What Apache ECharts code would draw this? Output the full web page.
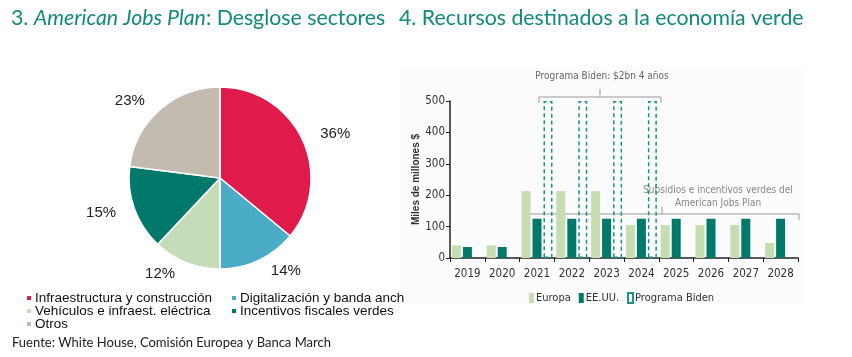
<!DOCTYPE html>
<html>
<head>
<meta charset="utf-8">
<script src="https://cdn.jsdelivr.net/npm/echarts@6/dist/echarts.min.js"></script>
<style>html,body{margin:0;padding:0;background:#fff;}#c{width:852px;height:357px;}</style>
</head>
<body>
<div id="c"></div>
<script>
// Pie data
const pieNames = ['Infraestructura y construcción', 'Digitalización y banda ancha', 'Vehículos e infraest. eléctrica', 'Incentivos fiscales verdes', 'Otros'];
const pieValues = [36, 14, 12, 15, 23];
const pieColors = ['#e01a4b', '#4aacc6', '#c6dcb9', '#00786a', '#c3bab0'];

// Bar data
const years = ['2019', '2020', '2021', '2022', '2023', '2024', '2025', '2026', '2027', '2028'];
const europa = [40, 40, 213, 213, 213, 105, 105, 105, 105, 48];
const eeuu = [35, 35, 125, 125, 125, 125, 125, 125, 125, 125];
const biden = [null, null, 500, 500, 500, 500, null, null, null, null];
const yTicks = [0, 100, 200, 300, 400, 500];

const chart = echarts.init(document.getElementById('c'), null, {renderer: 'canvas'});
const narrow = "'Liberation Sans Narrow', 'Arial Narrow', 'DejaVu Sans Condensed', Arial, sans-serif";
const titleColor = '#11897d';
const titleFont = "21.3px Lato, 'Open Sans', sans-serif";

const option = {
  backgroundColor: '#ffffff',
  animation: false,
  graphic: [
    {type: 'rect', z: -10, shape: {x: 400, y: 66, width: 406, height: 238}, style: {fill: '#fcfcfc'}},
    {type: 'text', left: 11, top: 8, style: {
      text: '{n|3. }{i|American Jobs Plan}{n|: Desglose sectores}',
      rich: {
        n: {fill: titleColor, font: titleFont},
        i: {fill: titleColor, font: "italic " + titleFont}
      }}},
    {type: 'text', left: 399, top: 8, style: {text: '4. Recursos destinados a la economía verde', fill: titleColor, font: titleFont}},
    {type: 'text', left: 12, top: 336, style: {text: 'Fuente: White House, Comisión Europea y Banca March', fill: '#222', font: "13px Lato, 'Open Sans', sans-serif"}},
    // Top bracket
    {type: 'polyline', shape: {points: [[539, 103], [539, 97], [661, 97], [661, 103]]}, style: {stroke: '#999', lineWidth: 1, fill: null}},
    {type: 'line', shape: {x1: 600, y1: 97, x2: 600, y2: 89}, style: {stroke: '#999', lineWidth: 1}},
    {type: 'text', x: 602, y: 76, style: {text: 'Programa Biden: $2bn 4 años', fill: '#666', font: "10px " + narrow, align: 'center', verticalAlign: 'middle'}},
    // Lower bracket
    {type: 'polyline', shape: {points: [[525, 220], [525, 214], [799, 214], [799, 220]]}, style: {stroke: '#999', lineWidth: 1, fill: null}},
    {type: 'line', shape: {x1: 662, y1: 214, x2: 662, y2: 207}, style: {stroke: '#999', lineWidth: 1}},
    {type: 'text', x: 718, y: 190, style: {text: 'Subsidios e incentivos verdes del', fill: '#888', font: "10px " + narrow, align: 'center', verticalAlign: 'middle'}},
    {type: 'text', x: 718, y: 203, style: {text: 'American Jobs Plan', fill: '#888', font: "10px " + narrow, align: 'center', verticalAlign: 'middle'}}
  ],
  legend: [
    {
      left: 20, top: 291, orient: 'vertical', itemGap: -1, itemWidth: 6, itemHeight: 6, icon: 'rect', padding: [0, 5],
      data: [pieNames[0], pieNames[2], pieNames[4]],
      textStyle: {fontFamily: 'Arial, Liberation Sans, sans-serif', fontSize: 13.5, color: '#111', lineHeight: 12.5, padding: [0, 0, 0, -2]}
    },
    {
      left: 225, top: 291, orient: 'vertical', itemGap: -1, itemWidth: 6, itemHeight: 6, icon: 'rect', padding: [0, 5],
      data: [pieNames[1], pieNames[3]],
      textStyle: {fontFamily: 'Arial, Liberation Sans, sans-serif', fontSize: 13.5, color: '#111', lineHeight: 12.5, padding: [0, 0, 0, -2], width: 166, overflow: 'truncate', ellipsis: ''}
    },
    {
      left: 524, top: 287, itemGap: 8, itemWidth: 5, itemHeight: 10, icon: 'rect',
      data: ['Europa', 'EE.UU.', 'Programa Biden'],
      textStyle: {fontFamily: narrow, fontSize: 11, color: '#333', padding: [0, 0, 0, -3]}
    }
  ],
  grid: {left: 450, right: 54, top: 101, bottom: 99, containLabel: false},
  xAxis: {
    type: 'category', data: years,
    axisLine: {lineStyle: {color: '#222', width: 1.5}},
    axisTick: {show: true, alignWithLabel: false, length: 4, lineStyle: {color: '#222'}},
    axisLabel: {fontFamily: narrow, fontSize: 11.5, color: '#333', margin: 10}
  },
  yAxis: {
    type: 'value', min: 0, max: 500, interval: 100,
    name: 'Miles de millones $', nameLocation: 'middle', nameGap: 29,
    nameTextStyle: {fontFamily: 'Arial, sans-serif', fontSize: 10, fontWeight: 'bold', color: '#333'},
    axisLine: {show: true, lineStyle: {color: '#222', width: 1.5}},
    axisTick: {show: true, length: 4, lineStyle: {color: '#222'}},
    splitLine: {show: false},
    axisLabel: {fontFamily: narrow, fontSize: 11.5, color: '#333', margin: 5,
      formatter: v => yTicks.includes(v) ? String(v) : ''}
  },
  series: [
    {
      type: 'pie', center: [220, 178], radius: 91, startAngle: 90, clockwise: true,
      data: pieNames.map((n, i) => ({name: n, value: pieValues[i], itemStyle: {color: pieColors[i]}})),
      itemStyle: {borderColor: '#fff', borderWidth: 1.5},
      label: {show: true, position: 'outside', formatter: '{c}%', fontFamily: 'Arial, Liberation Sans, sans-serif', fontSize: 15, color: '#222', distanceToLabelLine: 2},
      labelLine: {show: false, length: 12, length2: 5},
      emphasis: {disabled: true}
    },
    {
      type: 'bar', name: 'Europa', data: europa, barWidth: 9, barGap: '22%',
      itemStyle: {color: '#c6dcb1'}
    },
    {
      type: 'bar', name: 'EE.UU.', data: eeuu, barWidth: 9, barGap: '22%',
      itemStyle: {color: '#00786a'}
    },
    {
      type: 'bar', name: 'Programa Biden', data: biden, barWidth: 9, barGap: '22%',
      itemStyle: {color: 'rgba(0,0,0,0)', borderColor: '#1e9384', borderWidth: 1.5, borderType: [4, 3]}
    }
  ]
};
chart.setOption(option);
</script>
</body>
</html>
